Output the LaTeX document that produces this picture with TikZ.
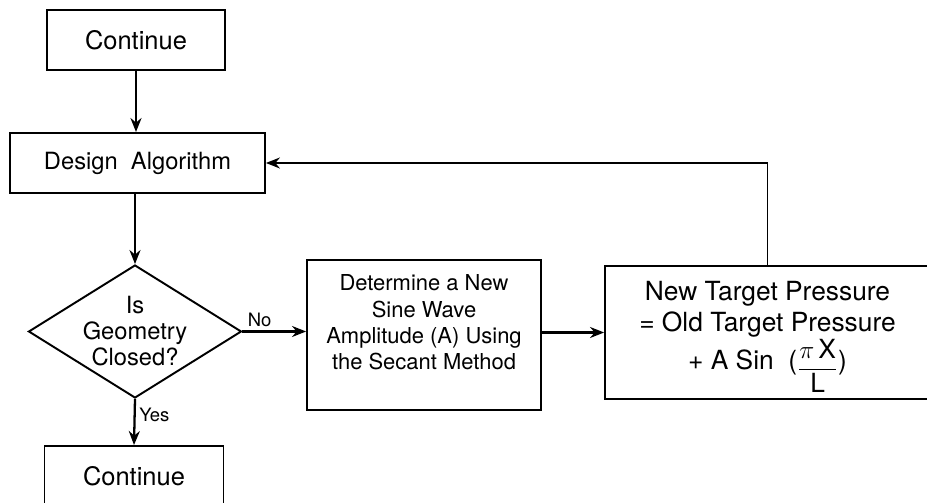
\documentclass[tikz,border=0pt]{standalone}
\usepackage{amsmath}
\usepackage{fontspec}
\setmainfont{TeX Gyre Heros}
\usetikzlibrary{arrows.meta,shapes.geometric}
\tikzset{
  >={Stealth[length=2.8mm,width=2.2mm]},
  box/.style={draw,line width=1.1pt,inner sep=0pt,align=center,font=\fontsize{13}{15}\selectfont},
  dec/.style={diamond,draw,line width=1.1pt,inner sep=-5pt,aspect=1.6,align=center,font=\fontsize{13.5}{14.8}\selectfont},
  lbl/.style={inner sep=2pt,font=\fontsize{10.5}{12}\selectfont},
  flow/.style={->,line width=1.3pt},
}
\begin{document}
\begin{tikzpicture}[x=0.02cm,y=-0.02cm]
\useasboundingbox (0,0) rectangle (927,503);
\node[box,minimum width=3.56cm,minimum height=1.2cm,font=\fontsize{14.5}{15}\selectfont] (top) at (136,40) {Continue};
\node[box,minimum width=5.1cm,minimum height=1.2cm,font=\fontsize{13.5}{15}\selectfont] (design) at (137.5,163) {Design\ \ Algorithm};
\node[dec,minimum width=4.26cm,minimum height=2.66cm] (closed) at (135,331.5) {Is\\Geometry\\Closed?};
\node[box,minimum width=3.58cm,minimum height=1.2cm,font=\fontsize{14.5}{15}\selectfont] (bottom) at (134,476) {Continue};
\node[box,minimum width=4.68cm,minimum height=3cm,font=\fontsize{12.5}{14.8}\selectfont] (amp) at (424,335)
  {Determine\ a\ New\\Sine\ Wave\\Amplitude\ (A)\ Using\\the\ Secant\ Method\\ ~};
\node[box,minimum width=6.5cm,minimum height=2.66cm,font=\fontsize{15}{18}\selectfont] (press) at (767.5,332.5)
  {\rule{0pt}{16pt}New\ Target\ Pressure\\=\ Old\ Target\ Pressure\\+\ A\ Sin\ \ (\raisebox{-3.5pt}{$\dfrac{\pi\,\text{X}}{\text{L}}$})};
% main flow
\draw[flow] (top.south) -- (top.south |- design.north);
\draw[flow] (design.south -| closed.north) -- (closed.north);
\draw[flow] (closed.south) -- (bottom.north) node[lbl,right,pos=.35] (yes) {Yes};
\draw[flow] (closed.east) -- (closed.east -| amp.west) node[lbl,above,pos=.27] (no) {No};
\draw[flow] (press.west -| amp.east) -- (press.west);
% feedback loop
\draw[->,line width=0.9pt] (press.north) |- (design.east);
\end{tikzpicture}
\end{document}
